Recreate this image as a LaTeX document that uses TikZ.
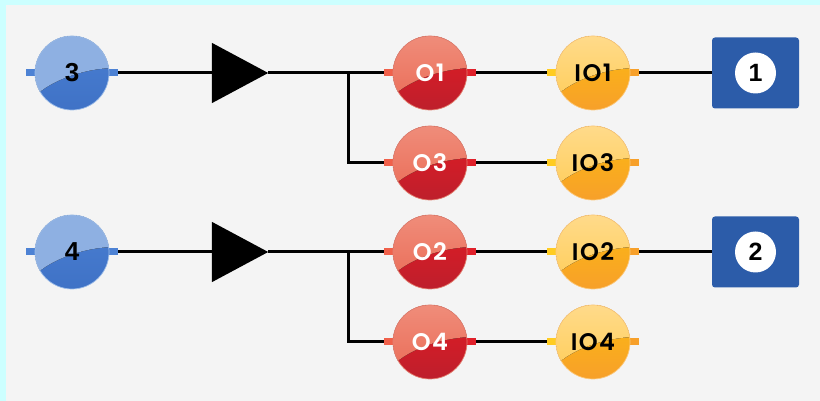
\documentclass[tikz,border=0pt]{standalone}
\usepackage{fontspec}
\newfontfamily\lblfont{Poppins}[UprightFont={* SemiBold}, LetterSpace=6]
\newfontfamily\numfont{Liberation Sans}
\usetikzlibrary{backgrounds}
\definecolor{cyanbg}{HTML}{CCFFFF}
\definecolor{panel}{HTML}{F4F4F4}
\definecolor{blueL}{HTML}{8EB0E2}
\definecolor{blueD1}{HTML}{4A7FD2}
\definecolor{blueD2}{HTML}{3F72C6}
\definecolor{blueE}{HTML}{9CBCE8}
\definecolor{blueT}{HTML}{4D82D4}
\definecolor{redL1}{HTML}{F0907E}
\definecolor{redL2}{HTML}{EA6A55}
\definecolor{redD1}{HTML}{E21B23}
\definecolor{redD2}{HTML}{BE1F2C}
\definecolor{redE}{HTML}{E28070}
\definecolor{redTL}{HTML}{F0604A}
\definecolor{redTR}{HTML}{E0202A}
\definecolor{orL1}{HTML}{FFDC90}
\definecolor{orL2}{HTML}{FFCC55}
\definecolor{orD1}{HTML}{FDBB10}
\definecolor{orD2}{HTML}{F7A02A}
\definecolor{orE}{HTML}{FCC87A}
\definecolor{orTL}{HTML}{FFCC22}
\definecolor{orTR}{HTML}{F7A02A}
\definecolor{boxblue}{HTML}{2C5CA9}
\tikzset{
  ball/.style n args={5}{circle, minimum size=74pt, inner sep=0pt,
    top color=#3, bottom color=#4, draw=#5, line width=0.7pt,
    path picture={
      \fill[top color=#1, bottom color=#2]
        ([shift={(-38pt,-24pt)}]path picture bounding box.center)
        .. controls +(16pt,16pt) and +(-30pt,-1pt) ..
        ([shift={(40pt,5pt)}]path picture bounding box.center)
        -- ++(0,40pt) -- ++(-80pt,0) -- cycle;
    }},
  blueball/.style={ball={blueL}{blueL}{blueD1}{blueD2}{blueE}, font=\numfont\bfseries\fontsize{26}{26}\selectfont, text=black},
  redball/.style={ball={redL1}{redL2}{redD1}{redD2}{redE}, font=\lblfont\fontsize{24}{24}\selectfont, text=white},
  orball/.style={ball={orL1}{orL2}{orD1}{orD2}{orE}, font=\lblfont\fontsize{24}{24}\selectfont, text=black},
  tri/.style={minimum width=56pt, minimum height=60pt, inner sep=0pt},
  outbox/.style={rectangle, rounded corners=3pt, fill=boxblue, minimum width=87pt, minimum height=71pt, inner sep=0pt},
  numdisc/.style={circle, fill=white, minimum size=41pt, inner sep=0pt, text=black, font=\numfont\bfseries\fontsize{25}{25}\selectfont},
  wire/.style={draw=black, line width=3pt},
}
\begin{document}
\begin{tikzpicture}[x=1pt,y=1pt]
\useasboundingbox (0,0) rectangle (820,401);
\begin{scope}[on background layer]
  \fill[cyanbg] (0,0) rectangle (820,401);
  \fill[panel] (6,0) rectangle (820,396);
\end{scope}
% inputs
\node[blueball] (n3) at (72,328) {3};
\node[blueball] (n4) at (72,149) {4};
% triangles
\node[tri] (t1) at (240,328) {};
\node[tri] (t2) at (240,149) {};
\fill (t1.north west) -- (t1.east) -- (t1.south west) -- cycle;
\fill (t2.north west) -- (t2.east) -- (t2.south west) -- cycle;
% junctions
\coordinate (j1) at (348.5,328);
\coordinate (j2) at (348.5,149);
% outputs
\node[redball] (o1) at (430,328) {O1};
\node[redball] (o3) at (430,238) {O3};
\node[redball] (o2) at (430,149) {O2};
\node[redball] (o4) at (430,59) {O4};
\node[orball] (io1) at (593,328) {IO1};
\node[orball] (io3) at (593,238) {IO3};
\node[orball] (io2) at (593,149) {IO2};
\node[orball] (io4) at (593,59) {IO4};
% boxes
\node[outbox] (b1) at (755.5,328) {};
\node[outbox] (b2) at (755.5,149) {};
\node[numdisc] (d1) at (b1.center) {1};
\node[numdisc] (d2) at (b2.center) {2};
\begin{scope}[on background layer]
  \draw[wire] (n3) -- (t1);
  \draw[wire] (t1) -- (o1);
  \draw[wire] (j1) |- (o3);
  \draw[wire] (o1) -- (io1);
  \draw[wire] (o3) -- (io3);
  \draw[wire] (io1) -- (b1);
  \draw[wire] (n4) -- (t2);
  \draw[wire] (t2) -- (o2);
  \draw[wire] (j2) |- (o4);
  \draw[wire] (o2) -- (io2);
  \draw[wire] (o4) -- (io4);
  \draw[wire] (io2) -- (b2);
\end{scope}
\begin{scope}[on background layer]
  \foreach \n in {n3,n4}{
    \fill[blueT] ([xshift=6pt,yshift=-3.5pt]\n.west) rectangle ++(-15pt,7pt);
    \fill[blueT] ([xshift=-6pt,yshift=-3.5pt]\n.east) rectangle ++(15pt,7pt);
  }
  \foreach \n in {o1,o2,o3,o4}{
    \fill[redTL] ([xshift=6pt,yshift=-3.5pt]\n.west) rectangle ++(-15pt,7pt);
    \fill[redTR] ([xshift=-6pt,yshift=-3.5pt]\n.east) rectangle ++(15pt,7pt);
  }
  \foreach \n in {io1,io2,io3,io4}{
    \fill[orTL] ([xshift=6pt,yshift=-3.5pt]\n.west) rectangle ++(-15pt,7pt);
    \fill[orTR] ([xshift=-6pt,yshift=-3.5pt]\n.east) rectangle ++(15pt,7pt);
  }
\end{scope}
\end{tikzpicture}
\end{document}
